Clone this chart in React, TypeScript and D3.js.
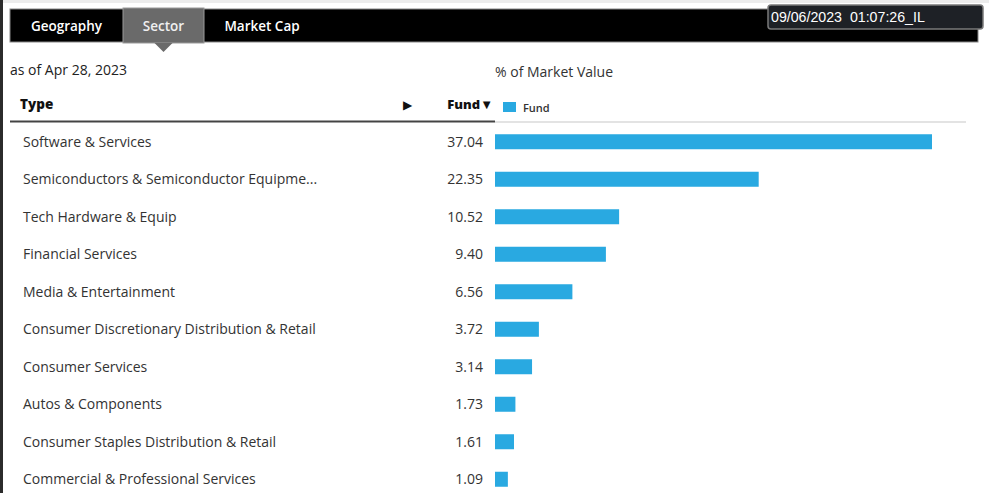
import React from "react";
import * as d3 from "d3";

const categories = [
  "Software & Services",
  "Semiconductors & Semiconductor Equipme...",
  "Tech Hardware & Equip",
  "Financial Services",
  "Media & Entertainment",
  "Consumer Discretionary Distribution & Retail",
  "Consumer Services",
  "Autos & Components",
  "Consumer Staples Distribution & Retail",
  "Commercial & Professional Services",
];
const fundValues = [37.04, 22.35, 10.52, 9.4, 6.56, 3.72, 3.14, 1.73, 1.61, 1.09];
const valueLabels = ["37.04", "22.35", "10.52", "9.40", "6.56", "3.72", "3.14", "1.73", "1.61", "1.09"];
const tabs = ["Geography", "Sector", "Market Cap"];

const W = 989;
const H = 493;
const FONT = "'Open Sans', 'Noto Sans', sans-serif";
const BLUE = "#29a9e1";

export default function App() {
  const x = d3.scaleLinear().domain([0, 37.04]).range([495, 932]);
  const y = d3
    .scaleBand<string>()
    .domain(categories)
    .range([123, 498])
    .paddingInner(0.6)
    .paddingOuter(0.3);
  const tabX = [10, 123, 205];
  const tabW = [113, 81, 120];
  return (
    <svg
      width={W}
      height={H}
      style={{ position: "absolute", left: 0, top: 0, background: "#fff" }}
      fontFamily={FONT}
    >
      <rect x={0} y={0} width={W} height={H} fill="#fff" />
      <rect x={0} y={0} width={W} height={3} fill="#ececec" />
      <rect x={0} y={0} width={3} height={H} fill="#2b2b2b" />
      {/* tab bar */}
      <rect x={10} y={9} width={968} height={33} fill="#000" stroke="#888" strokeWidth={1} />
      {tabs.map((t, i) =>
        i === 1 ? (
          <g key={t}>
            <rect x={tabX[i]} y={8} width={tabW[i]} height={35} fill="#6a6a6a" stroke="#9a9a9a" strokeWidth={1} />
            <path d={`M${tabX[i] + tabW[i] / 2 - 9},43 L${tabX[i] + tabW[i] / 2 + 9},43 L${tabX[i] + tabW[i] / 2},52 Z`} fill="#6a6a6a" />
          </g>
        ) : null
      )}
      {tabs.map((t, i) => (
        <text
          key={t + "l"}
          x={tabX[i] + (i === 2 ? 57 : tabW[i] / 2)}
          y={31}
          textAnchor="middle"
          fill={i === 1 ? "#f0f0f0" : "#fff"}
          fontSize={13.5}
          fontWeight={600}
        >
          {t}
        </text>
      ))}
      {/* timestamp */}
      <rect x={768} y={5} width={215} height={24} rx={3} fill="#1e2126" stroke="#7a7a7a" strokeWidth={1.5} />
      <text x={771} y={22} fill="#fff" fontSize={14.2} fontFamily="'Liberation Sans', Arial, sans-serif" xmlSpace="preserve">
        {"09/06/2023  01:07:26_IL"}
      </text>

      <text x={10} y={75} fill="#222" fontSize={14}>as of Apr 28, 2023</text>
      <text x={495} y={77} fill="#333" fontSize={14}>% of Market Value</text>

      {/* header */}
      <text x={20} y={109} fill="#111" fontSize={13.5} fontWeight={800}>Type</text>
      <text x={403} y={109} fill="#111" fontSize={12}>▶</text>
      <text x={493} y={109} textAnchor="end" fill="#111" fontSize={13} fontWeight={800}>Fund▼</text>
      <rect x={503} y={102} width={13} height={10} fill={BLUE} />
      <text x={523} y={112} fill="#333" fontSize={11} fontWeight={600}>Fund</text>
      <line x1={10} x2={495} y1={121.5} y2={121.5} stroke="#444" strokeWidth={2} />
      <line x1={495} x2={966} y1={122} y2={122} stroke="#e3e3e3" strokeWidth={2} />

      {categories.map((c, i) => {
        const yc = (y(c) as number) + y.bandwidth() / 2;
        return (
          <g key={c}>
            <text x={23} y={yc + 5} fill="#333" fontSize={14}>{c}</text>
            <text x={483} y={yc + 5} textAnchor="end" fill="#333" fontSize={14}>{valueLabels[i]}</text>
            <rect x={x(0)} y={y(c)} width={x(fundValues[i]) - x(0)} height={y.bandwidth()} fill={BLUE} />
          </g>
        );
      })}
    </svg>
  );
}
